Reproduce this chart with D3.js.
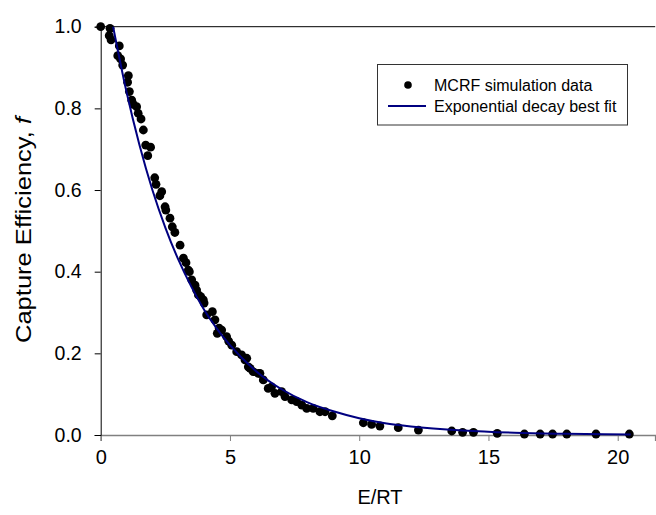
<!DOCTYPE html>
<html>
<head>
<meta charset="utf-8">
<script src="https://cdn.jsdelivr.net/npm/d3@7"></script>
<style>
  html, body { margin: 0; padding: 0; background: #fff; }
  svg { display: block; font-family: "Liberation Sans", Arial, sans-serif; }
</style>
</head>
<body>
<svg id="chart" width="656" height="515"></svg>
<script>
// Simulation data (E/RT, capture efficiency f)
const simX = [0.00,0.36,0.33,0.40,0.72,0.66,0.77,0.85,1.07,1.04,1.11,1.20,1.26,1.39,1.45,1.56,1.65,1.74,1.93,1.82,
  2.09,2.14,2.36,2.29,2.49,2.52,2.68,2.77,2.87,3.07,3.20,3.30,3.39,3.43,3.52,3.65,3.71,3.78,3.87,3.97,
  4.00,4.10,4.32,4.42,4.51,4.58,4.68,4.87,4.95,5.07,5.26,5.45,5.58,5.65,5.71,5.78,5.90,6.10,6.16,6.29,
  6.48,6.61,6.74,7.00,7.13,7.39,7.58,7.78,7.97,8.22,8.48,8.68,8.96,10.16,10.48,10.80,11.51,12.29,13.58,14.00,
  14.42,15.34,16.39,17.00,17.48,18.03,19.16,20.45];
const simF = [1.000,0.996,0.978,0.968,0.953,0.929,0.921,0.906,0.880,0.864,0.841,0.820,0.810,0.804,0.788,0.774,0.747,0.710,0.705,0.684,
  0.630,0.614,0.596,0.586,0.559,0.551,0.531,0.510,0.496,0.465,0.433,0.422,0.404,0.400,0.380,0.367,0.355,0.343,0.339,0.331,
  0.323,0.294,0.302,0.282,0.249,0.262,0.257,0.241,0.230,0.220,0.204,0.196,0.184,0.188,0.167,0.163,0.155,0.151,0.151,0.135,
  0.114,0.118,0.102,0.106,0.094,0.086,0.082,0.073,0.065,0.065,0.057,0.057,0.047,0.030,0.026,0.022,0.018,0.012,0.0098,0.0066,
  0.0066,0.0040,0.0024,0.0024,0.0024,0.0024,0.0024,0.0024];

// Best-fit curve
const fitX = [0.48,1,1.5,2,2.5,3,3.5,4,4.5,5,6,7,8,9,10,11,12,14,16,18,20.5];
const fitF = [1.0,0.84,0.71,0.60,0.508,0.43,0.364,0.307,0.26,0.22,0.157,0.112,0.080,0.058,0.041,0.029,0.021,0.011,0.0055,0.003,0.0013];

const xTicks = [0, 5, 10, 15, 20];
const yTicks = [0, 0.2, 0.4, 0.6, 0.8, 1.0];
const legendLabels = ["MCRF simulation data", "Exponential decay best fit"];

const svg = d3.select("#chart");
const pL = 100.7, pR = 655.2, pT = 26.7, pB = 435;

const x = d3.scaleLinear().domain([0, 21.45]).range([pL, pR]);
const y = d3.scaleLinear().domain([0, 1]).range([pB, pT]);

// top frame line
svg.append("line").attr("x1", pL).attr("x2", pR).attr("y1", pT).attr("y2", pT)
  .attr("stroke", "#000").attr("stroke-width", 1);

// x axis (gray)
const gx = svg.append("g").attr("transform", `translate(0,${pB})`)
  .call(d3.axisBottom(x).tickValues(xTicks).tickFormat(d3.format("d")).tickSize(6).tickPadding(9));
gx.select(".domain").attr("stroke", "#808080").attr("stroke-width", 1.6);
gx.selectAll(".tick line").attr("stroke", "#808080").attr("stroke-width", 1);
gx.selectAll("text").attr("font-size", 20).attr("fill", "#000")
  .attr("font-family", "Liberation Sans, Arial, sans-serif");

// y axis
const gy = svg.append("g").attr("transform", `translate(${pL},0)`)
  .call(d3.axisLeft(y).tickValues(yTicks).tickFormat(d3.format(".1f")).tickSize(6).tickPadding(13));
gy.select(".domain").attr("stroke", "#000").attr("stroke-width", 1);
gy.selectAll(".tick line").attr("stroke", "#000");
gy.selectAll("text").attr("font-size", 19.5).attr("fill", "#000")
  .attr("font-family", "Liberation Sans, Arial, sans-serif");

// axis titles
svg.append("text").attr("x", 380).attr("y", 504).attr("text-anchor", "middle")
  .attr("font-size", 20).text("E/RT");
const yt = svg.append("text").attr("transform", "translate(30.5,230) rotate(-90)")
  .attr("text-anchor", "middle").attr("font-size", 22)
  .attr("textLength", 226).attr("lengthAdjust", "spacingAndGlyphs");
yt.append("tspan").text("Capture Efficiency, ");
yt.append("tspan").attr("font-style", "italic").text("f");

// data points
const pts = simX.map((d, i) => [d, simF[i]]);
svg.append("g").selectAll("circle").data(pts).join("circle")
  .attr("cx", d => x(d[0])).attr("cy", d => y(d[1])).attr("r", 4.4).attr("fill", "#000");

// fit line
const fitPts = fitX.map((d, i) => [d, fitF[i]]);
svg.append("path").datum(fitPts)
  .attr("d", d3.line().x(d => x(d[0])).y(d => y(d[1])).curve(d3.curveMonotoneX))
  .attr("fill", "none").attr("stroke", "#000080").attr("stroke-width", 2);

// legend
const lg = svg.append("g");
lg.append("rect").attr("x", 377.5).attr("y", 64.5).attr("width", 250).attr("height", 60.5)
  .attr("fill", "#fff").attr("stroke", "#333").attr("stroke-width", 1);
lg.append("circle").attr("cx", 408).attr("cy", 85).attr("r", 3.8).attr("fill", "#000");
lg.append("line").attr("x1", 388).attr("x2", 426).attr("y1", 106).attr("y2", 106)
  .attr("stroke", "#000080").attr("stroke-width", 2);
lg.selectAll("text.lab").data(legendLabels).join("text").attr("class", "lab")
  .attr("x", 434).attr("y", (d, i) => 91 + i * 20.7).attr("font-size", 16).attr("fill", "#000").text(d => d);
</script>
</body>
</html>
